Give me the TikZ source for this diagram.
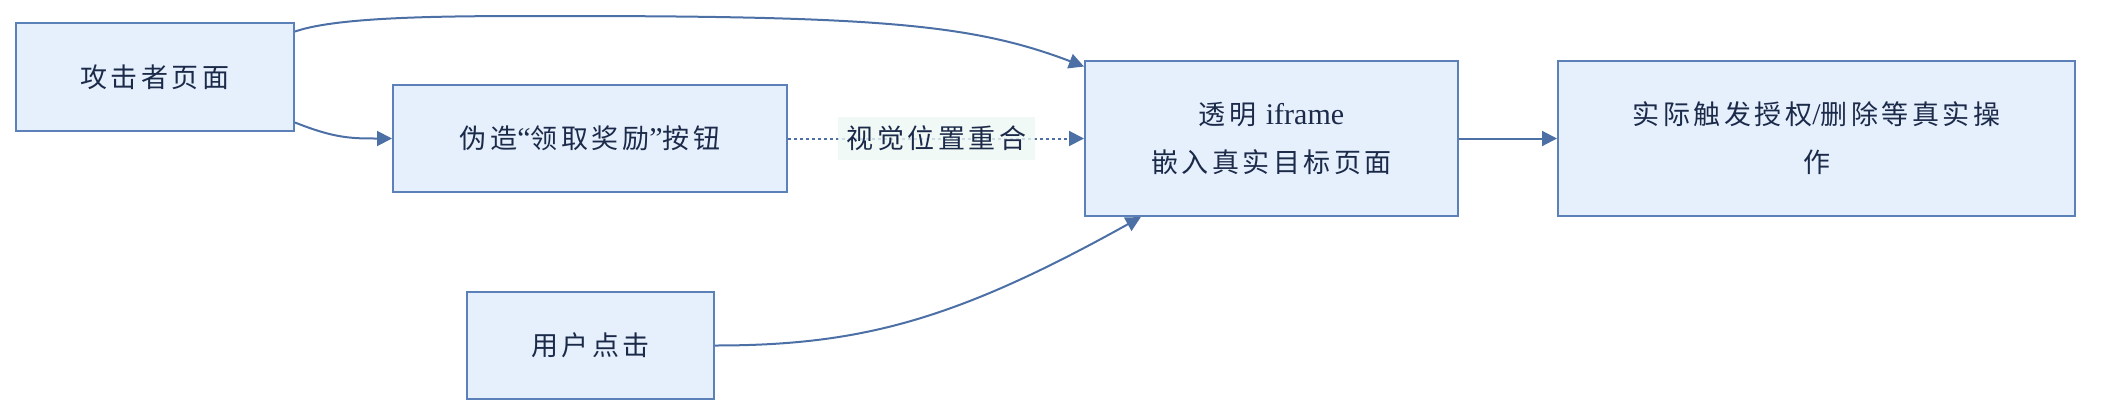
\documentclass[tikz,border=0pt]{standalone}
\usepackage{fontspec}
\setmainfont{Liberation Serif}
\newfontfamily\cjk[Scale=0.9,LetterSpace=13]{Noto Sans CJK SC}
\usetikzlibrary{arrows.meta}

\definecolor{boxfill}{RGB}{230,240,253}
\definecolor{boxline}{RGB}{92,128,184}
\definecolor{linkcol}{RGB}{76,112,166}
\definecolor{textcol}{RGB}{28,42,74}
\definecolor{tagfill}{RGB}{238,247,244}

\tikzset{
  box/.style={draw=boxline, fill=boxfill, line width=1pt, inner sep=0pt,
    align=center, text=textcol, font=\fontsize{15}{24}\selectfont\cjk},
  link/.style={draw=linkcol, line width=1pt, -{Triangle[length=7.5pt,width=7.5pt]}},
  tag/.style={fill=tagfill, fill opacity=0.8, text opacity=1, text=textcol,
    minimum width=98.5pt, minimum height=21.5pt, inner sep=0pt,
    font=\fontsize{15}{24}\selectfont\cjk}
}

\begin{document}
\begin{tikzpicture}[x=0.5pt, y=-0.5pt]
                \useasboundingbox (0,0) rectangle (2106,418);
                \node[box, minimum width=139pt, minimum height=54pt] (atk) at (155,77) {攻击者页面};
                \node[box, minimum width=197pt, minimum height=53.5pt] (fake) at (590,138.5) {伪造{\rmfamily“}领取奖励{\rmfamily”}按钮};
                \node[box, minimum width=186.5pt, minimum height=77.5pt] (ifr) at (1271.5,138.5) {透明 {\rmfamily iframe}\\嵌入真实目标页面};
                \node[box, minimum width=258.5pt, minimum height=77.5pt] (real) at (1816.5,138.5) {实际触发授权{\rmfamily/}删除等真实操\\作};
                \node[box, minimum width=123.5pt, minimum height=53.5pt] (user) at (590.5,345.5) {用户点击};
                % arrows
                \draw[link] (atk.18) .. controls +(46,-16) and +(-100,0) .. (560,16) .. controls +(320,0) and +(-110,-42) .. (ifr.159);
                \draw[link] (atk.-18) .. controls +(40,16) and +(-40,0) .. (fake.west);
                \draw[link, dash pattern=on 1.5pt off 1.5pt] (fake.east) -- (ifr.west);
                \node[tag] (overlap) at (936.5,138.5) {视觉位置重合};
                \draw[link] (user.east) .. controls +(146,0) and +(-185,103) .. (ifr.211.5);
                \draw[link] (ifr.east) -- (real.west);
            \end{tikzpicture}
\end{document}
